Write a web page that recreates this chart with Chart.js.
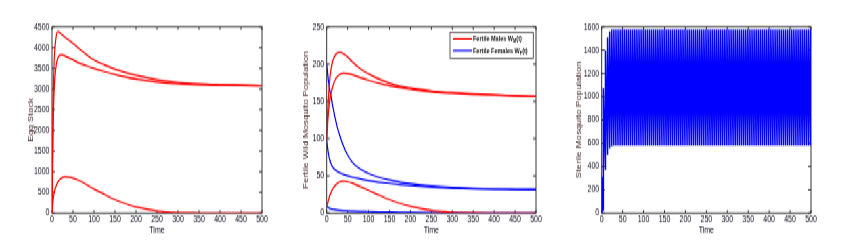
<!DOCTYPE html>
<html>
<head>
<meta charset="utf-8">
<script src="https://cdn.jsdelivr.net/npm/chart.js@4"></script>
<style>
html, body { margin: 0; padding: 0; background: #fff; width: 847px; height: 251px; }
/* the source figure is stretched vertically, so the whole strip is too */
#wrap { position: relative; width: 847px; height: 183px; transform: scaleY(1.3716); transform-origin: 0 0; }
canvas { position: absolute; top: 0; }
</style>
</head>
<body>
<div id="wrap">
  <canvas id="egg" width="280" height="183" style="left:0px"></canvas>
  <canvas id="wild" width="280" height="183" style="left:280px"></canvas>
  <canvas id="sterile" width="287" height="183" style="left:560px"></canvas>
</div>
<script>
// sample times (days) used for the egg and wild population curves
const timeDays = [0, 1, 2, 3, 5, 7, 10, 13, 16, 20, 25, 30, 40, 50, 60, 80, 100, 125, 150, 175, 200, 250, 300, 350, 400, 450, 500];

// Egg stock, three runs
const eggHigh = [0, 1200, 2200, 2900, 3650, 4000, 4280, 4390, 4385, 4350, 4310, 4260, 4180, 4110, 4020, 3850, 3700, 3580, 3480, 3400, 3330, 3225, 3160, 3125, 3105, 3090, 3080];
const eggMid = [0, 900, 1700, 2300, 2950, 3300, 3580, 3720, 3790, 3822, 3825, 3805, 3755, 3705, 3650, 3570, 3500, 3420, 3350, 3290, 3240, 3170, 3125, 3102, 3090, 3081, 3076];
const eggLow = [0, 150, 270, 360, 480, 570, 660, 730, 780, 825, 860, 875, 868, 845, 805, 700, 580, 450, 325, 225, 145, 50, 10, 2, 0, 0, 0];

// Fertile wild males W_M(t)
const malesHigh = [100, 115, 130, 143, 163, 178, 192, 201, 207, 212, 215, 216, 214, 210, 204, 194, 187, 180, 174.5, 170.5, 168, 164, 162, 160.5, 159, 157.5, 156.5];
const malesMid = [98, 108, 118, 127, 140, 150, 160, 167, 173, 179, 183, 186, 188, 187.5, 186, 182, 178.5, 174.5, 171, 168.5, 166.5, 163, 161, 159.5, 158.5, 157.5, 156.5];
const malesLow = [9.5, 11, 13, 15, 19, 23, 27, 31, 34, 37, 39.5, 41.5, 42.7, 42, 40.5, 35.5, 30.5, 24, 18, 13, 9, 3.6, 1, 0.3, 0.1, 0, 0];

// Fertile wild females W_F(t)
const femalesHigh = [200, 195, 189, 183, 174, 166, 158, 148, 139, 128, 116, 106, 90, 78, 69, 59, 53, 48, 44.5, 41.5, 39.5, 36.5, 34.5, 33.2, 32.4, 31.9, 31.5];
const femalesMid = [98, 93, 88, 84, 77, 72, 67, 63, 60.5, 58, 56, 54.5, 52, 50, 48.5, 46, 43.5, 41.5, 39.7, 38.2, 37, 35, 33.5, 32.6, 32.1, 31.8, 31.5];
const femalesLow = [10, 9, 8.3, 7.7, 6.8, 6.2, 5.6, 5.1, 4.7, 4.3, 3.9, 3.6, 3.2, 2.9, 2.6, 2.2, 1.9, 1.5, 1.2, 0.9, 0.7, 0.4, 0.2, 0.1, 0.05, 0, 0];

// Sterile mosquitoes: release days, level just before each release, level just after it
const releaseDays = [0.5,
  4, 9, 14, 19, 24, 29, 34, 39, 44, 49, 54, 59, 64, 69, 74, 79, 84, 89, 94, 99,
  104, 109, 114, 119, 124, 129, 134, 139, 144, 149, 154, 159, 164, 169, 174, 179, 184, 189, 194, 199,
  204, 209, 214, 219, 224, 229, 234, 239, 244, 249, 254, 259, 264, 269, 274, 279, 284, 289, 294, 299,
  304, 309, 314, 319, 324, 329, 334, 339, 344, 349, 354, 359, 364, 369, 374, 379, 384, 389, 394, 399,
  404, 409, 414, 419, 424, 429, 434, 439, 444, 449, 454, 459, 464, 469, 474, 479, 484, 489, 494, 499];
const sterileBefore = [0,
  20, 370, 500, 555, 572, 578, 580, 580, 580, 580, 580, 580, 580, 580, 580, 580, 580, 580, 580, 580,
  580, 580, 580, 580, 580, 580, 580, 580, 580, 580, 580, 580, 580, 580, 580, 580, 580, 580, 580, 580,
  580, 580, 580, 580, 580, 580, 580, 580, 580, 580, 580, 580, 580, 580, 580, 580, 580, 580, 580, 580,
  580, 580, 580, 580, 580, 580, 580, 580, 580, 580, 580, 580, 580, 580, 580, 580, 580, 580, 580, 580,
  580, 580, 580, 580, 580, 580, 580, 580, 580, 580, 580, 580, 580, 580, 580, 580, 580, 580, 580, 580];
const sterileAfter = [310,
  1075, 1400, 1510, 1565, 1578, 1580, 1580, 1580, 1580, 1580, 1580, 1580, 1580, 1580, 1580, 1580, 1580, 1580, 1580, 1580,
  1580, 1580, 1580, 1580, 1580, 1580, 1580, 1580, 1580, 1580, 1580, 1580, 1580, 1580, 1580, 1580, 1580, 1580, 1580, 1580,
  1580, 1580, 1580, 1580, 1580, 1580, 1580, 1580, 1580, 1580, 1580, 1580, 1580, 1580, 1580, 1580, 1580, 1580, 1580, 1580,
  1580, 1580, 1580, 1580, 1580, 1580, 1580, 1580, 1580, 1580, 1580, 1580, 1580, 1580, 1580, 1580, 1580, 1580, 1580, 1580,
  1580, 1580, 1580, 1580, 1580, 1580, 1580, 1580, 1580, 1580, 1580, 1580, 1580, 1580, 1580, 1580, 1580, 1580, 1580, 1580];
const sterileEnd = 1400;

const RED = '#ff0000';
const BLUE = '#0000ff';
const FONT = "'Liberation Sans', Arial, sans-serif";

Chart.defaults.font.family = FONT;
Chart.defaults.font.size = 7;
Chart.defaults.color = '#0d0d1e';

// box around the plot with inward ticks on all four sides (matlab style)
const framePlugin = {
  id: 'frame',
  beforeDatasetsDraw(chart) {
    const { ctx, chartArea: a, scales: { x, y } } = chart;
    ctx.save();
    ctx.strokeStyle = '#1e1e1e';
    ctx.lineWidth = 0.9;
    ctx.strokeRect(a.left, a.top, a.right - a.left, a.bottom - a.top);
    ctx.beginPath();
    x.ticks.forEach(t => {
      const px = x.getPixelForValue(t.value);
      ctx.moveTo(px, a.bottom); ctx.lineTo(px, a.bottom - 2.2);
      ctx.moveTo(px, a.top); ctx.lineTo(px, a.top + 2.2);
    });
    y.ticks.forEach(t => {
      const py = y.getPixelForValue(t.value);
      ctx.moveTo(a.left, py); ctx.lineTo(a.left + 3, py);
      ctx.moveTo(a.right, py); ctx.lineTo(a.right - 3, py);
    });
    ctx.stroke();
    ctx.restore();
  }
};

// legend with subscripts for the middle panel
const wildLegend = {
  id: 'wildLegend',
  afterDraw(chart) {
    const { ctx, chartArea: a } = chart;
    const w = 83.3, h = 18.9;
    const bx = a.right - 2.7 - w, by = a.top + 3.9;
    ctx.save();
    ctx.fillStyle = '#fff';
    ctx.fillRect(bx, by, w, h);
    ctx.strokeStyle = '#333';
    ctx.lineWidth = 0.8;
    ctx.strokeRect(bx, by, w, h);
    const rows = [
      { color: RED, main: 'Fertile Males W', sub: 'M' },
      { color: BLUE, main: 'Fertile Females W', sub: 'F' }
    ];
    rows.forEach((r, i) => {
      const ly = by + 4.8 + i * 8.6;
      ctx.strokeStyle = r.color;
      ctx.lineWidth = 1.2;
      ctx.beginPath();
      ctx.moveTo(bx + 3, ly);
      ctx.lineTo(bx + 22, ly);
      ctx.stroke();
      ctx.fillStyle = '#111';
      ctx.textBaseline = 'middle';
      ctx.font = 'bold 5.5px ' + FONT;
      ctx.fillText(r.main, bx + 23, ly);
      let tx = bx + 23 + ctx.measureText(r.main).width;
      ctx.font = 'bold 4px ' + FONT;
      ctx.fillText(r.sub, tx, ly + 1.6);
      tx += ctx.measureText(r.sub).width;
      ctx.font = 'bold 5.5px ' + FONT;
      ctx.fillText('(t)', tx, ly);
    });
    ctx.restore();
  }
};

function makeScales(yMax, yStep, yTitle, yWidth, titlePad) {
  return {
    x: {
      type: 'linear', min: 0, max: 500,
      ticks: { stepSize: 50, padding: 1, maxRotation: 0, autoSkip: false, callback: v => String(v) },
      grid: { display: false, drawTicks: false },
      border: { display: false },
      title: { display: true, text: 'Time', font: { size: 7 }, padding: { top: 0, bottom: 10.4 } },
      afterFit: s => { s.height = 27.7; }
    },
    y: {
      type: 'linear', min: 0, max: yMax,
      ticks: { stepSize: yStep, padding: 2.5, autoSkip: false, callback: v => String(v) },
      grid: { display: false, drawTicks: false },
      border: { display: false },
      title: { display: true, text: yTitle, color: '#3a1c1c', font: { size: 7 }, padding: { top: titlePad, bottom: 0 } },
      afterFit: s => { s.width = yWidth; }
    }
  };
}

function curve(values, color) {
  return {
    data: timeDays.map((t, i) => ({ x: t, y: values[i] })),
    borderColor: color,
    borderWidth: 1.2,
    pointRadius: 0,
    cubicInterpolationMode: 'monotone',
    fill: false
  };
}

const baseOptions = (padLeft, padRight, scales) => ({
  responsive: false,
  animation: false,
  layout: { padding: { left: padLeft, right: padRight, top: 19.7, bottom: 0 } },
  plugins: { legend: { display: false }, tooltip: { enabled: false } },
  scales: scales
});

new Chart(document.getElementById('egg'), {
  type: 'line',
  data: { datasets: [curve(eggHigh, RED), curve(eggMid, RED), curve(eggLow, RED)] },
  options: baseOptions(26, 18, makeScales(4500, 500, 'Egg Stock', 26, 0.5)),
  plugins: [framePlugin]
});

new Chart(document.getElementById('wild'), {
  type: 'line',
  data: {
    datasets: [
      curve(malesHigh, RED), curve(malesMid, RED), curve(malesLow, RED),
      curve(femalesHigh, BLUE), curve(femalesMid, BLUE), curve(femalesLow, BLUE)
    ]
  },
  options: baseOptions(21, 24, makeScales(250, 50, 'Fertile Wild Mosquito Population', 25.7, 0.8)),
  plugins: [framePlugin, wildLegend]
});

// sawtooth: drop to the pre-release level, then jump up at each release day
const sterilePoints = [{ x: 0, y: 0 }];
releaseDays.forEach((d, i) => {
  sterilePoints.push({ x: d, y: sterileBefore[i] });
  sterilePoints.push({ x: d, y: sterileAfter[i] });
});
sterilePoints.push({ x: 500, y: sterileEnd });

new Chart(document.getElementById('sterile'), {
  type: 'line',
  data: {
    datasets: [{
      data: sterilePoints,
      borderColor: BLUE,
      borderWidth: 1.5,
      pointRadius: 0,
      tension: 0,
      fill: false
    }]
  },
  options: baseOptions(14.6, 36, makeScales(1600, 200, 'Sterile Mosquito Population', 27.1, 0.5)),
  plugins: [framePlugin]
});
</script>
</body>
</html>
